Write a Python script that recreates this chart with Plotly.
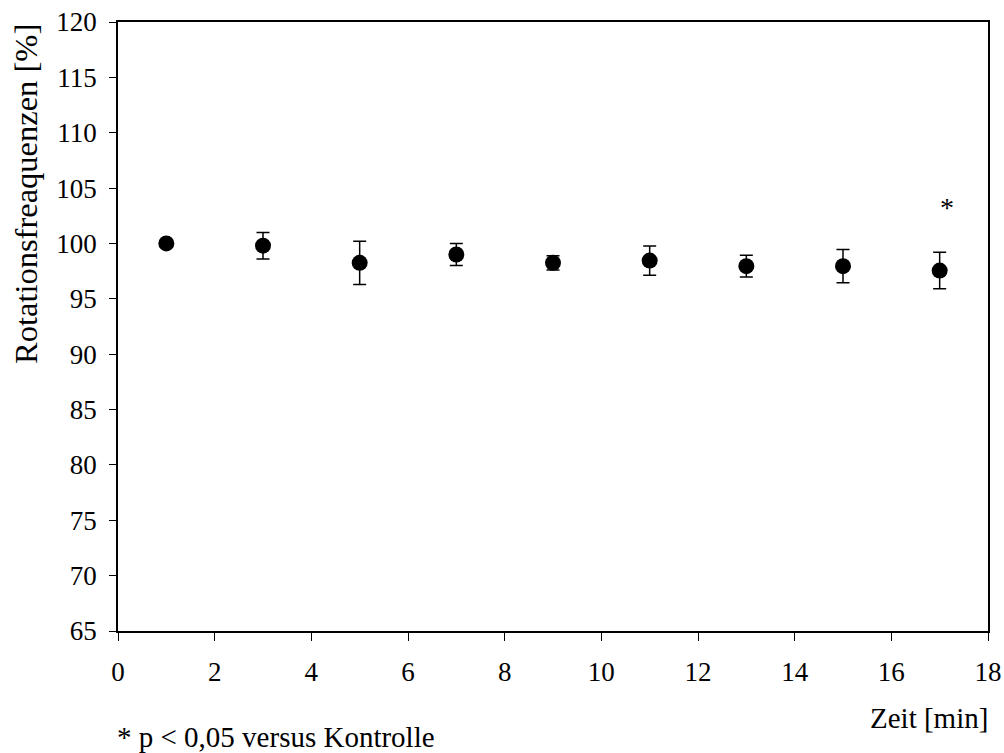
import plotly.graph_objects as go

zeit = [1, 3, 5, 7, 9, 11, 13, 15, 17]
rotation = [100.0, 99.8, 98.25, 99.0, 98.25, 98.45, 97.95, 97.95, 97.55]
fehler = [0.0, 1.2, 1.95, 1.0, 0.65, 1.33, 0.98, 1.5, 1.65]
x_ticks = [0, 2, 4, 6, 8, 10, 12, 14, 16, 18]
y_ticks = [65, 70, 75, 80, 85, 90, 95, 100, 105, 110, 115, 120]

font = "Liberation Serif, DejaVu Serif, serif"

fig = go.Figure()
fig.add_trace(go.Scatter(
    x=zeit, y=rotation, mode="markers",
    marker=dict(color="black", size=16),
    error_y=dict(type="data", array=fehler, color="black", thickness=1.5, width=6.5, visible=True),
    showlegend=False,
))

fig.add_annotation(x=17.15, y=103.25, text="*", showarrow=False,
                   font=dict(family=font, size=28, color="black"))

fig.add_annotation(xref="paper", yref="paper", x=1.002, y=-0.143, xanchor="right", yanchor="middle",
                   text="Zeit [min]", showarrow=False, font=dict(family=font, size=29, color="black"))
fig.add_annotation(xref="paper", yref="paper", x=-0.004, y=-0.174, xanchor="left", yanchor="middle",
                   text="* p &lt; 0,05 versus Kontrolle", showarrow=False,
                   font=dict(family=font, size=29, color="black"))
fig.add_annotation(xref="paper", yref="paper", x=-0.105, y=0.717, xanchor="center", yanchor="middle",
                   text="Rotationsfreaquenzen [%]", textangle=-90, showarrow=False,
                   font=dict(family=font, size=32.5, color="black"))

fig.update_layout(
    width=1004, height=753,
    margin=dict(l=118, r=16, t=22, b=122, autoexpand=False),
    plot_bgcolor="white", paper_bgcolor="white",
    font=dict(family=font, size=27, color="black"),
)
fig.update_xaxes(range=[0, 18], tickvals=x_ticks, ticks="outside", ticklen=8, tickcolor="black",
                 showline=True, linecolor="black", linewidth=1.5, mirror=True, showgrid=False,
                 zeroline=False, ticklabelstandoff=8, automargin=False,
                 tickfont=dict(family=font, size=27))
fig.update_yaxes(range=[65, 120], tickvals=y_ticks, ticks="outside", ticklen=7, tickcolor="black",
                 showline=True, linecolor="black", linewidth=1.5, mirror=True, showgrid=False,
                 zeroline=False, ticklabelstandoff=7, automargin=False,
                 tickfont=dict(family=font, size=27))

fig.write_html("out.html")
